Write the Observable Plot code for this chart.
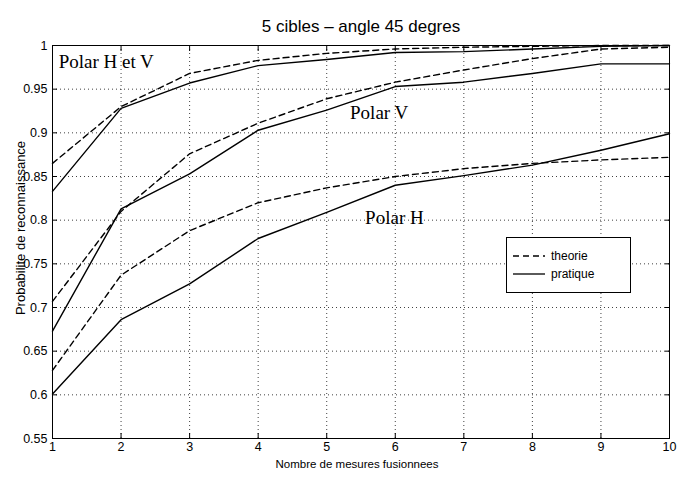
<!DOCTYPE html>
<html><head><meta charset="utf-8">
<script src="https://cdn.jsdelivr.net/npm/d3@7"></script>
<script src="https://cdn.jsdelivr.net/npm/@observablehq/plot@0.6"></script>
<style>
body{margin:0;background:#fff;}
#wrap{position:relative;width:691px;height:479px;}
#legend{position:absolute;left:506px;top:237px;width:123px;height:54px;border:1px solid #000;background:#fff;font-family:"Liberation Sans",Arial,sans-serif;font-size:12px;}
#legend .row{position:absolute;left:6px;height:14px;display:flex;align-items:center;}
#legend svg{margin-right:6px;}
</style>
</head><body><div id="wrap"></div>
<script>
const mesures = [1, 2, 3, 4, 5, 6, 7, 8, 9, 10];
const hvTheorie  = [0.865, 0.930, 0.968, 0.983, 0.991, 0.996, 0.998, 0.999, 1.000, 1.000];
const hvPratique = [0.833, 0.928, 0.957, 0.977, 0.984, 0.992, 0.993, 0.996, 0.999, 1.000];
const vTheorie   = [0.707, 0.810, 0.876, 0.911, 0.939, 0.958, 0.972, 0.985, 0.996, 0.998];
const vPratique  = [0.673, 0.813, 0.853, 0.903, 0.926, 0.953, 0.958, 0.968, 0.979, 0.979];
const hTheorie   = [0.628, 0.737, 0.788, 0.820, 0.837, 0.850, 0.859, 0.865, 0.869, 0.872];
const hPratique  = [0.601, 0.686, 0.727, 0.779, 0.809, 0.840, 0.851, 0.863, 0.880, 0.899];
const yTicks = [0.55, 0.6, 0.65, 0.7, 0.75, 0.8, 0.85, 0.9, 0.95, 1];
const xTicks = mesures;
const titre = "5 cibles \u2013 angle 45 degres";
const xLabel = "Nombre de mesures fusionnees";
const yLabel = "Probabilite de reconnaissance";
const annotations = [
  {text: "Polar H et V", x: 1.09, y: 0.981},
  {text: "Polar V", x: 5.34, y: 0.923},
  {text: "Polar H", x: 5.56, y: 0.803}
];
const legendItems = ["theorie", "pratique"];

const toRows = (serie, vals) => vals.map((v, i) => ({x: mesures[i], y: v, serie}));
const theoRows = [...toRows("HV", hvTheorie), ...toRows("V", vTheorie), ...toRows("H", hTheorie)];
const pratRows = [...toRows("HV", hvPratique), ...toRows("V", vPratique), ...toRows("H", hPratique)];

const chart = Plot.plot({
  width: 691, height: 479,
  marginLeft: 52, marginRight: 22, marginTop: 45, marginBottom: 41,
  style: {fontFamily: "'Liberation Sans', Arial, sans-serif", fontSize: "12.5px", background: "#fff", color: "#000"},
  x: {domain: [1, 10]},
  y: {domain: [0.55, 1]},
  marks: [
    Plot.gridX(xTicks, {stroke: "#000", strokeOpacity: 0.75, strokeDasharray: "1,3"}),
    Plot.gridY(yTicks, {stroke: "#000", strokeOpacity: 0.75, strokeDasharray: "1,3"}),
    Plot.axisX({anchor: "bottom", ticks: xTicks, tickSize: -5, tickPadding: 9, label: null, tickFormat: d => String(d)}),
    Plot.axisX({anchor: "top", ticks: xTicks, tickSize: -5, fill: "none", label: null}),
    Plot.axisY({anchor: "left", ticks: yTicks, tickSize: -5, tickPadding: 10, label: null, tickFormat: d => String(d)}),
    Plot.axisY({anchor: "right", ticks: yTicks, tickSize: -5, fill: "none", label: null}),
    Plot.frame({stroke: "#000"}),
    Plot.line(theoRows, {x: "x", y: "y", z: "serie", stroke: "#000", strokeWidth: 1.4, strokeDasharray: "6,4"}),
    Plot.line(pratRows, {x: "x", y: "y", z: "serie", stroke: "#000", strokeWidth: 1.4}),
    Plot.text(annotations, {x: "x", y: "y", text: "text", textAnchor: "start", fontFamily: "'Liberation Serif', 'Times New Roman', serif", fontSize: 19, fill: "#000"}),
    Plot.text([titre], {frameAnchor: "top", dy: -26, fontSize: 17, fill: "#000"}),
    Plot.text([xLabel], {frameAnchor: "bottom", dy: 29, dx: -4, fontSize: 11.5, fill: "#000"}),
    Plot.text([yLabel], {frameAnchor: "left", textAnchor: "middle", dx: -32, dy: -14, rotate: -90, fontSize: 13, fill: "#000", letterSpacing: "1.5px"})
  ]
});
const wrap = document.getElementById("wrap");
wrap.appendChild(chart);

const legend = document.createElement("div");
legend.id = "legend";
legendItems.forEach((label, i) => {
  const row = document.createElement("div");
  row.className = "row";
  row.style.top = (i === 0 ? 11 : 29) + "px";
  row.innerHTML = `<svg width="32" height="4"><line x1="0" y1="2" x2="32" y2="2" stroke="#000" stroke-width="1.3" ${i === 0 ? 'stroke-dasharray="6,4"' : ''}/></svg><span>${label}</span>`;
  legend.appendChild(row);
});
wrap.appendChild(legend);
</script>
</body></html>
